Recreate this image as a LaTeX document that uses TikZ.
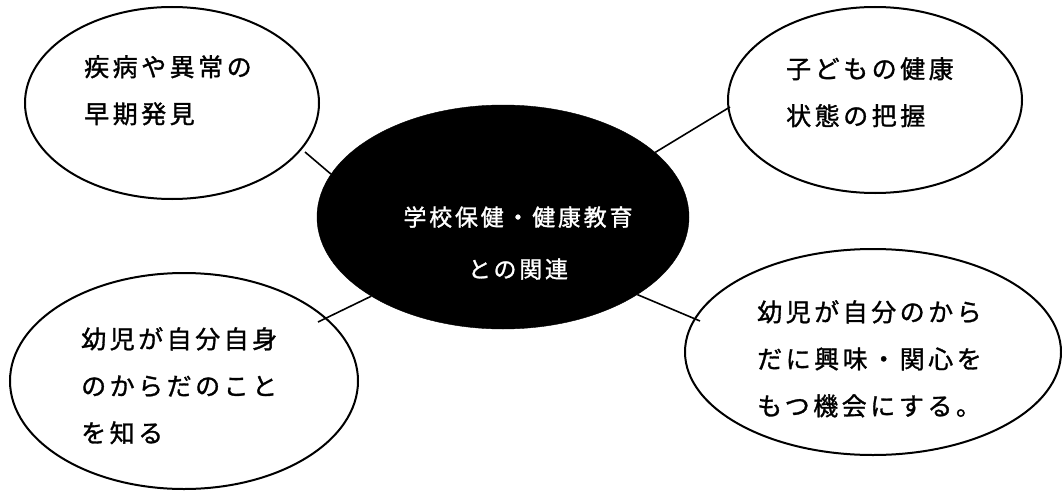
\documentclass[tikz,border=0pt]{standalone}
\usepackage{fontspec}
\newfontfamily\jp[FakeBold=1.2]{Noto Sans CJK JP}
\usetikzlibrary{shapes.geometric}
\begin{document}
\begin{tikzpicture}[x=1pt,y=-1pt,
  bubble/.style={draw=black,line width=2pt,ellipse,inner sep=0pt},
  core/.style={fill=black,draw=black,ellipse,inner sep=0pt},
  label/.style={anchor=north west,align=left,inner sep=0pt,
    font={\jp\fontsize{25}{47}\selectfont\addfontfeature{LetterSpace=14}}},
  link/.style={line width=1.6pt}]
\useasboundingbox (0,0) rectangle (1062,495);
% ellipses
\node[bubble,minimum width=294pt,minimum height=192pt] (tl) at (172,103) {};
\node[bubble,minimum width=294pt,minimum height=186pt] (tr) at (875,100) {};
\node[bubble,minimum width=348pt,minimum height=216pt] (bl) at (184,381) {};
\node[bubble,minimum width=376pt,minimum height=206pt] (br) at (873,352) {};
\node[core,minimum width=372pt,minimum height=224pt] (c) at (503,217) {};
% connector end points
\coordinate (tlend) at (305,152);
\coordinate (trend) at (730,107);
\coordinate (blend) at (318,322);
\coordinate (brend) at (700,321);
\draw[link] (tlend) -- (c.166);
\draw[link] (trend) -- (c.23);
\draw[link] (blend) -- (c.211);
\draw[link] (brend) -- (c.-30);
% texts
\node[label] (tltext) at (84,55) {疾病や異常の\\早期発見};
\node[label] (trtext) at (786,57) {子どもの健康\\状態の把握};
\node[label] (bltext) at (81,327) {幼児が自分自身\\のからだのこと\\を知る};
\node[label] (brtext) at (757,300) {幼児が自分のから\\だに興味・関心を\\もつ機会にする。};
\node[label,anchor=center,align=center,text=white,
  font={\jp\fontsize{23}{52}\selectfont\addfontfeature{LetterSpace=12}}] (ctext) at (518,243) {学校保健・健康教育\\との関連};
\end{tikzpicture}
\end{document}
